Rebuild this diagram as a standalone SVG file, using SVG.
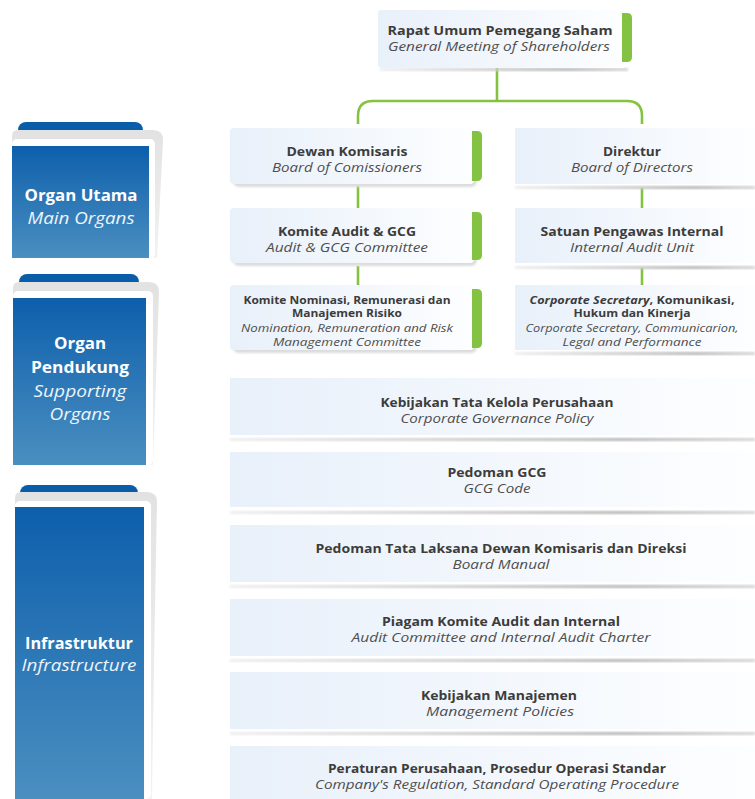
<svg xmlns="http://www.w3.org/2000/svg" width="755" height="799" viewBox="0 0 755 799">
  <defs>
    <linearGradient id="boxFill" x1="0" y1="0" x2="1" y2="0">
      <stop offset="0" stop-color="#e8f0fa"/>
      <stop offset="1" stop-color="#fdfeff"/>
    </linearGradient>
    <linearGradient id="shadowLine" x1="0" y1="0" x2="1" y2="0">
      <stop offset="0" stop-color="#eeeeee"/>
      <stop offset="0.75" stop-color="#b9b9b9"/>
      <stop offset="1" stop-color="#d6d6d6"/>
    </linearGradient>
    <linearGradient id="blueFill" x1="0" y1="0" x2="0" y2="1">
      <stop offset="0" stop-color="#0d5fac"/>
      <stop offset="1" stop-color="#4b8fc0"/>
    </linearGradient>
    <linearGradient id="cardShade" x1="0" y1="0" x2="0" y2="1">
      <stop offset="0" stop-color="#e2e2e2"/>
      <stop offset="1" stop-color="#f2f2f2"/>
    </linearGradient>
    <filter id="soft" x="-5%" y="-20%" width="110%" height="140%">
      <feGaussianBlur stdDeviation="0.8"/>
    </filter>
    <style>
      .box { fill: url(#boxFill); }
      .cardshadow { fill: #dcdcdc; filter: url(#soft); }
      .line { fill: url(#shadowLine); filter: url(#soft); }
      .bar { fill: #84c341; }
      .conn { fill: none; stroke: #84c341; stroke-width: 2.6; }
      .tab { fill: #0a5ea9; }
      .shade { fill: url(#cardShade); }
      .blue { fill: url(#blueFill); }
      text { font-family: "Open Sans", "Noto Sans", "Liberation Sans", sans-serif; text-anchor: middle; }
      .b { font-weight: 700; font-size: 12px; fill: #3c3c3c; }
      .i { font-style: italic; font-size: 12px; fill: #4e4e4e; }
      .bs { font-weight: 700; font-size: 10px; fill: #3c3c3c; }
      .is { font-style: italic; font-size: 10px; fill: #4e4e4e; }
      .wb { font-weight: 700; font-size: 16px; fill: #ffffff; }
      .wi { font-style: italic; font-size: 16px; fill: #eef4fa; }
    </style>
  </defs>

  <rect width="755" height="799" fill="#ffffff"/>

  <!-- category panels -->
  <g id="panel-main">
    <rect class="tab" x="18" y="122" width="125" height="30" rx="8"/>
    <path class="shade" d="M12 258 V136 Q12 130 18 130 H153 Q163 130 163 140 Q160 200 157 258 Z"/>
    <rect x="12" y="139" width="143" height="120" rx="5" fill="#ffffff"/>
    <rect class="blue" x="12" y="146" width="137" height="112"/>
    <text class="wb" x="81" y="201" textLength="113" lengthAdjust="spacingAndGlyphs">Organ Utama</text>
    <text class="wi" x="81" y="224" textLength="107" lengthAdjust="spacingAndGlyphs">Main Organs</text>
  </g>

  <g id="panel-support">
    <rect class="tab" x="19" y="274" width="120" height="30" rx="8"/>
    <path class="shade" d="M13 465 V288 Q13 282 19 282 H149 Q159 282 159 292 Q156 380 153 465 Z"/>
    <rect x="13" y="291" width="140" height="174" rx="5" fill="#ffffff"/>
    <rect class="blue" x="13" y="298" width="133" height="167"/>
    <text class="wb" x="80" y="349" textLength="52" lengthAdjust="spacingAndGlyphs">Organ</text>
    <text class="wb" x="80" y="373" textLength="98" lengthAdjust="spacingAndGlyphs">Pendukung</text>
    <text class="wi" x="80" y="397" textLength="93" lengthAdjust="spacingAndGlyphs">Supporting</text>
    <text class="wi" x="80" y="420" textLength="61" lengthAdjust="spacingAndGlyphs">Organs</text>
  </g>

  <g id="panel-infra">
    <rect class="tab" x="20" y="485" width="118" height="30" rx="8"/>
    <path class="shade" d="M15 799 V498 Q15 492 21 492 H147 Q157 492 157 502 Q154 650 152 799 Z"/>
    <rect x="15" y="501" width="136" height="298" rx="5" fill="#ffffff"/>
    <rect class="blue" x="15" y="507" width="129" height="292"/>
    <text class="wb" x="79" y="649" textLength="108" lengthAdjust="spacingAndGlyphs">Infrastruktur</text>
    <text class="wi" x="79" y="671" textLength="115" lengthAdjust="spacingAndGlyphs">Infrastructure</text>
  </g>

  <!-- connectors -->
  <g id="connectors">
    <path class="conn" d="M497 68 V101"/>
    <path class="conn" d="M358 124 V116 Q358 101 373 101 H627 Q642 101 642 116 V124"/>
    <path class="conn" d="M358 186 V208"/>
    <path class="conn" d="M358 266 V285"/>
    <path class="conn" d="M642 188 V208"/>
    <path class="conn" d="M642 268 V285"/>
  </g>

  <!-- top node -->
  <g id="rups">
    <rect class="line" x="380" y="68" width="248" height="3"/>
    <rect class="box" x="378" y="10" width="248" height="58" rx="4"/>
    <path class="bar" d="M622 13 H627 Q632 13 632 18 V57 Q632 62 627 62 H622 Z"/>
    <text class="b" x="500" y="35" textLength="225" lengthAdjust="spacingAndGlyphs">Rapat Umum Pemegang Saham</text>
    <text class="i" x="499" y="51" textLength="222" lengthAdjust="spacingAndGlyphs">General Meeting of Shareholders</text>
  </g>

  <!-- supervisory column -->
  <g id="dewan-komisaris">
    <rect class="cardshadow" x="233" y="132" width="244" height="55" rx="6"/>
    <rect class="box" x="230" y="128" width="244" height="56" rx="4"/>
    <path class="bar" d="M472 131 H477 Q482 131 482 136 V176 Q482 181 477 181 H472 Z"/>
    <text class="b" x="347" y="156" textLength="121" lengthAdjust="spacingAndGlyphs">Dewan Komisaris</text>
    <text class="i" x="347" y="172" textLength="150" lengthAdjust="spacingAndGlyphs">Board of Comissioners</text>
  </g>

  <g id="komite-audit">
    <rect class="cardshadow" x="233" y="212" width="244" height="54" rx="6"/>
    <rect class="box" x="230" y="208" width="244" height="55" rx="4"/>
    <path class="bar" d="M472 212 H477 Q482 212 482 217 V255 Q482 260 477 260 H472 Z"/>
    <text class="b" x="347" y="236" textLength="138" lengthAdjust="spacingAndGlyphs">Komite Audit &amp; GCG</text>
    <text class="i" x="347" y="252" textLength="162" lengthAdjust="spacingAndGlyphs">Audit &amp; GCG Committee</text>
  </g>

  <g id="komite-nominasi">
    <rect class="cardshadow" x="233" y="289" width="244" height="64" rx="6"/>
    <rect class="box" x="230" y="285" width="244" height="65" rx="4"/>
    <path class="bar" d="M472 289 H477 Q482 289 482 294 V343 Q482 348 477 348 H472 Z"/>
    <text class="bs" x="347" y="304" textLength="207" lengthAdjust="spacingAndGlyphs">Komite Nominasi, Remunerasi dan</text>
    <text class="bs" x="347" y="317" textLength="110" lengthAdjust="spacingAndGlyphs">Manajemen Risiko</text>
    <text class="is" x="347" y="332" textLength="212" lengthAdjust="spacingAndGlyphs">Nomination, Remuneration and Risk</text>
    <text class="is" x="347" y="346" textLength="148" lengthAdjust="spacingAndGlyphs">Management Committee</text>
  </g>

  <!-- executive column -->
  <g id="direktur">
    <rect class="box" x="515" y="128" width="240" height="56"/>
    <rect class="line" x="515" y="186" width="240" height="3"/>
    <text class="b" x="632" y="156" textLength="58" lengthAdjust="spacingAndGlyphs">Direktur</text>
    <text class="i" x="632" y="172" textLength="122" lengthAdjust="spacingAndGlyphs">Board of Directors</text>
  </g>

  <g id="spi">
    <rect class="box" x="515" y="208" width="240" height="55"/>
    <rect class="line" x="515" y="266" width="240" height="3"/>
    <text class="b" x="632" y="236" textLength="183" lengthAdjust="spacingAndGlyphs">Satuan Pengawas Internal</text>
    <text class="i" x="632" y="252" textLength="124" lengthAdjust="spacingAndGlyphs">Internal Audit Unit</text>
  </g>

  <g id="corsec">
    <rect class="box" x="515" y="285" width="240" height="65"/>
    <rect class="line" x="515" y="352" width="240" height="3"/>
    <text class="bs" x="632" y="304" textLength="205" lengthAdjust="spacingAndGlyphs"><tspan font-style="italic">Corporate Secretary</tspan>, Komunikasi,</text>
    <text class="bs" x="632" y="317" textLength="117" lengthAdjust="spacingAndGlyphs">Hukum dan Kinerja</text>
    <text class="is" x="632" y="332" textLength="213" lengthAdjust="spacingAndGlyphs">Corporate Secretary, Communicarion,</text>
    <text class="is" x="632" y="346" textLength="139" lengthAdjust="spacingAndGlyphs">Legal and Performance</text>
  </g>

  <!-- supporting documents -->
  <g id="kebijakan-tata-kelola">
    <rect class="box" x="230" y="378" width="525" height="57"/>
    <rect class="line" x="230" y="438" width="525" height="3"/>
    <text class="b" x="497" y="407" textLength="233" lengthAdjust="spacingAndGlyphs">Kebijakan Tata Kelola Perusahaan</text>
    <text class="i" x="497" y="423" textLength="193" lengthAdjust="spacingAndGlyphs">Corporate Governance Policy</text>
  </g>

  <g id="pedoman-gcg">
    <rect class="box" x="230" y="452" width="525" height="55"/>
    <rect class="line" x="230" y="511" width="525" height="3"/>
    <text class="b" x="497" y="477" textLength="99" lengthAdjust="spacingAndGlyphs">Pedoman GCG</text>
    <text class="i" x="497" y="493" textLength="67" lengthAdjust="spacingAndGlyphs">GCG Code</text>
  </g>

  <g id="board-manual">
    <rect class="box" x="230" y="525" width="525" height="57"/>
    <rect class="line" x="230" y="585" width="525" height="3"/>
    <text class="b" x="501" y="553" textLength="371" lengthAdjust="spacingAndGlyphs">Pedoman Tata Laksana Dewan Komisaris dan Direksi</text>
    <text class="i" x="501" y="569" textLength="97" lengthAdjust="spacingAndGlyphs">Board Manual</text>
  </g>

  <g id="piagam">
    <rect class="box" x="230" y="599" width="525" height="57"/>
    <rect class="line" x="230" y="659" width="525" height="3"/>
    <text class="b" x="501" y="626" textLength="238" lengthAdjust="spacingAndGlyphs">Piagam Komite Audit dan Internal</text>
    <text class="i" x="501" y="642" textLength="299" lengthAdjust="spacingAndGlyphs">Audit Committee and Internal Audit Charter</text>
  </g>

  <g id="kebijakan-manajemen">
    <rect class="box" x="230" y="672" width="525" height="57"/>
    <rect class="line" x="230" y="732" width="525" height="3"/>
    <text class="b" x="499" y="700" textLength="156" lengthAdjust="spacingAndGlyphs">Kebijakan Manajemen</text>
    <text class="i" x="500" y="716" textLength="148" lengthAdjust="spacingAndGlyphs">Management Policies</text>
  </g>

  <g id="peraturan">
    <rect class="box" x="230" y="746" width="525" height="53"/>
    <text class="b" x="497" y="773" textLength="338" lengthAdjust="spacingAndGlyphs">Peraturan Perusahaan, Prosedur Operasi Standar</text>
    <text class="i" x="497" y="789" textLength="364" lengthAdjust="spacingAndGlyphs">Company's Regulation, Standard Operating Procedure</text>
  </g>
</svg>
